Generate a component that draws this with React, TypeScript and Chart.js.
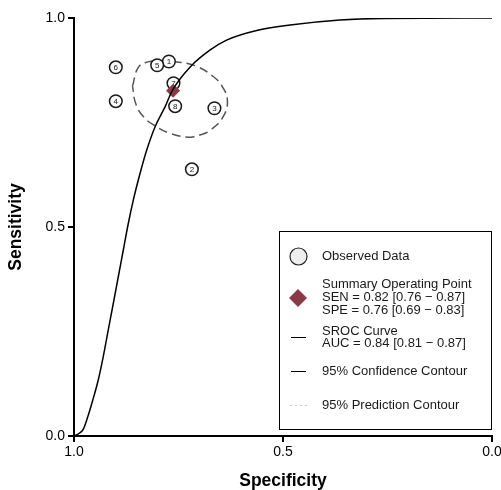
import React, { useEffect, useRef } from "react";
import { Chart, registerables } from "chart.js";

Chart.register(...registerables);

// Observed studies
const studyLabels = ["1", "2", "3", "4", "5", "6", "7", "8"];
const studySpec = [0.773, 0.718, 0.664, 0.9, 0.801, 0.9, 0.762, 0.758];
const studySens = [0.896, 0.638, 0.784, 0.801, 0.887, 0.882, 0.844, 0.789];

// Summary operating point
const summarySpec = [0.763];
const summarySens = [0.826];

// SROC curve
const srocSpec = [1.0, 0.988, 0.978, 0.968, 0.955, 0.942, 0.93, 0.918, 0.906, 0.894, 0.882, 0.87, 0.858, 0.842, 0.826, 0.806, 0.782, 0.764, 0.722, 0.675, 0.635, 0.563, 0.483, 0.364, 0.261, 0.0];
const srocSens = [0.0, 0.006, 0.016, 0.043, 0.086, 0.134, 0.19, 0.254, 0.317, 0.381, 0.445, 0.509, 0.565, 0.628, 0.684, 0.74, 0.788, 0.828, 0.883, 0.923, 0.947, 0.97, 0.983, 0.995, 0.999, 1.0];

// 95% confidence contour
const confSpec = [0.86, 0.846, 0.823, 0.794, 0.754, 0.708, 0.667, 0.646, 0.633, 0.643, 0.672, 0.699, 0.726, 0.77, 0.806, 0.833, 0.852, 0.86];
const confSens = [0.837, 0.882, 0.895, 0.898, 0.895, 0.885, 0.86, 0.837, 0.803, 0.764, 0.733, 0.72, 0.715, 0.724, 0.742, 0.763, 0.794, 0.837];

const tickValues = [0, 0.5, 1];

const legendTexts = {
  observed: ["Observed Data"],
  summary: ["Summary Operating Point", "SEN = 0.82 [0.76 \u2212 0.87]", "SPE = 0.76 [0.69 \u2212 0.83]"],
  sroc: ["SROC Curve", "AUC = 0.84 [0.81 \u2212 0.87]"],
  conf: ["95% Confidence Contour"],
  pred: ["95% Prediction Contour"],
};

const FONT = "'Liberation Sans', Arial, Helvetica, sans-serif";

const toXY = (xs: number[], ys: number[]) => xs.map((x, i) => ({ x, y: ys[i] }));

const labelPlugin = {
  id: "studyLabels",
  afterDatasetDraw(chart: any, args: any) {
    if (args.index !== 2) return;
    const meta = chart.getDatasetMeta(2);
    const ctx = chart.ctx;
    ctx.save();
    ctx.font = `8px ${FONT}`;
    ctx.fillStyle = "#222";
    ctx.textAlign = "center";
    ctx.textBaseline = "middle";
    meta.data.forEach((pt: any, i: number) => {
      ctx.fillText(studyLabels[i], pt.x, pt.y + 0.5);
    });
    ctx.restore();
  },
};

const legendPlugin = {
  id: "customLegend",
  afterDraw(chart: any) {
    const ctx = chart.ctx;
    ctx.save();
    ctx.fillStyle = "#fff";
    ctx.fillRect(279.5, 231.5, 212, 198);
    ctx.strokeStyle = "#000";
    ctx.lineWidth = 1;
    ctx.strokeRect(279.5, 231.5, 212, 198);

    ctx.font = `13px ${FONT}`;
    ctx.fillStyle = "#1a1a1a";
    ctx.textAlign = "left";
    ctx.textBaseline = "middle";
    const tx = 322;
    const lh = 12.8;

    // observed
    ctx.beginPath();
    ctx.arc(298.5, 256.5, 8.5, 0, Math.PI * 2);
    ctx.fillStyle = "#eeeeee";
    ctx.fill();
    ctx.strokeStyle = "#222";
    ctx.lineWidth = 1.2;
    ctx.stroke();
    ctx.fillStyle = "#1a1a1a";
    ctx.fillText(legendTexts.observed[0], tx, 256.5);

    // summary
    ctx.beginPath();
    ctx.moveTo(298, 289);
    ctx.lineTo(307, 298);
    ctx.lineTo(298, 307);
    ctx.lineTo(289, 298);
    ctx.closePath();
    ctx.fillStyle = "#8b3a45";
    ctx.fill();
    ctx.fillStyle = "#1a1a1a";
    legendTexts.summary.forEach((t, i) => ctx.fillText(t, tx, 284.5 + i * lh));

    // sroc
    ctx.strokeStyle = "#000";
    ctx.lineWidth = 1;
    ctx.beginPath();
    ctx.moveTo(291, 337.5);
    ctx.lineTo(306, 337.5);
    ctx.stroke();
    legendTexts.sroc.forEach((t, i) => ctx.fillText(t, tx, 331 + i * lh));

    // confidence
    ctx.beginPath();
    ctx.moveTo(291, 371.5);
    ctx.lineTo(306, 371.5);
    ctx.stroke();
    ctx.fillText(legendTexts.conf[0], tx, 371.5);

    // prediction
    ctx.fillStyle = "#999";
    [291, 296, 301, 306].forEach((x) => ctx.fillRect(x - 0.5, 405, 1, 1));
    ctx.fillStyle = "#1a1a1a";
    ctx.fillText(legendTexts.pred[0], tx, 405.5);
    ctx.restore();
  },
};

export default function App() {
  const ref = useRef<HTMLCanvasElement | null>(null);
  useEffect(() => {
    if (!ref.current) return;
    const chart = new Chart(ref.current, {
      type: "scatter",
      data: {
        datasets: [
          {
            label: "SROC Curve",
            data: toXY(srocSpec, srocSens),
            showLine: true,
            borderColor: "#000",
            borderWidth: 1.5,
            pointRadius: 0,
            cubicInterpolationMode: "monotone",
            order: 0,
          },
          {
            label: "Summary",
            data: toXY(summarySpec, summarySens),
            pointStyle: "rectRot",
            pointRadius: 7,
            backgroundColor: "#8b3a45",
            borderColor: "#8b3a45",
            borderWidth: 0,
            order: 1,
          },
          {
            label: "Observed Data",
            data: toXY(studySpec, studySens),
            pointRadius: 6.3,
            backgroundColor: "#fafafa",
            borderColor: "#1a1a1a",
            borderWidth: 1.5,
            order: 2,
          },
          {
            label: "95% Confidence Contour",
            data: toXY(confSpec, confSens),
            showLine: true,
            borderColor: "#555",
            borderWidth: 1.5,
            borderDash: [9, 5],
            pointRadius: 0,
            tension: 0.45,
            order: 3,
          },
        ],
      },
      options: {
        responsive: false,
        animation: false,
        events: [],
        layout: { padding: { top: 18, right: 9, left: 0, bottom: 0 } },
        plugins: { legend: { display: false }, tooltip: { enabled: false } },
        scales: {
          x: {
            type: "linear",
            reverse: true,
            min: 0,
            max: 1,
            afterBuildTicks: (scale: any) => {
              scale.ticks = tickValues.map((v) => ({ value: v }));
            },
            afterFit: (scale: any) => {
              scale.height = 54;
            },
            ticks: {
              callback: (v: any) => Number(v).toFixed(1),
              font: { size: 14, family: FONT },
              color: "#000",
              padding: 2,
              maxRotation: 0,
            },
            grid: { drawOnChartArea: false, drawTicks: true, tickLength: 6, color: "#000", lineWidth: 2 },
            border: { display: true, color: "#000", width: 2 },
            title: {
              display: true,
              text: "Specificity",
              font: { size: 17.5, weight: "bold", family: FONT, lineHeight: 1 },
              color: "#000",
              padding: 0,
            },
          },
          y: {
            type: "linear",
            min: 0,
            max: 1,
            afterBuildTicks: (scale: any) => {
              scale.ticks = tickValues.map((v) => ({ value: v }));
            },
            afterFit: (scale: any) => {
              scale.width = 74;
            },
            ticks: {
              callback: (v: any) => Number(v).toFixed(1),
              font: { size: 14, family: FONT },
              color: "#000",
              padding: 3,
            },
            grid: { drawOnChartArea: false, drawTicks: true, tickLength: 6, color: "#000", lineWidth: 2 },
            border: { display: true, color: "#000", width: 2 },
            title: {
              display: true,
              text: "Sensitivity",
              font: { size: 17.5, weight: "bold", family: FONT, lineHeight: 1 },
              color: "#000",
              padding: { top: 7, bottom: 0 },
            },
          },
        },
      },
      plugins: [labelPlugin, legendPlugin],
    });
    return () => chart.destroy();
  }, []);
  return (
    <div style={{ position: "absolute", left: 0, top: 0, width: 501, height: 490, background: "#fff" }}>
      <canvas ref={ref} width={501} height={490} />
    </div>
  );
}
